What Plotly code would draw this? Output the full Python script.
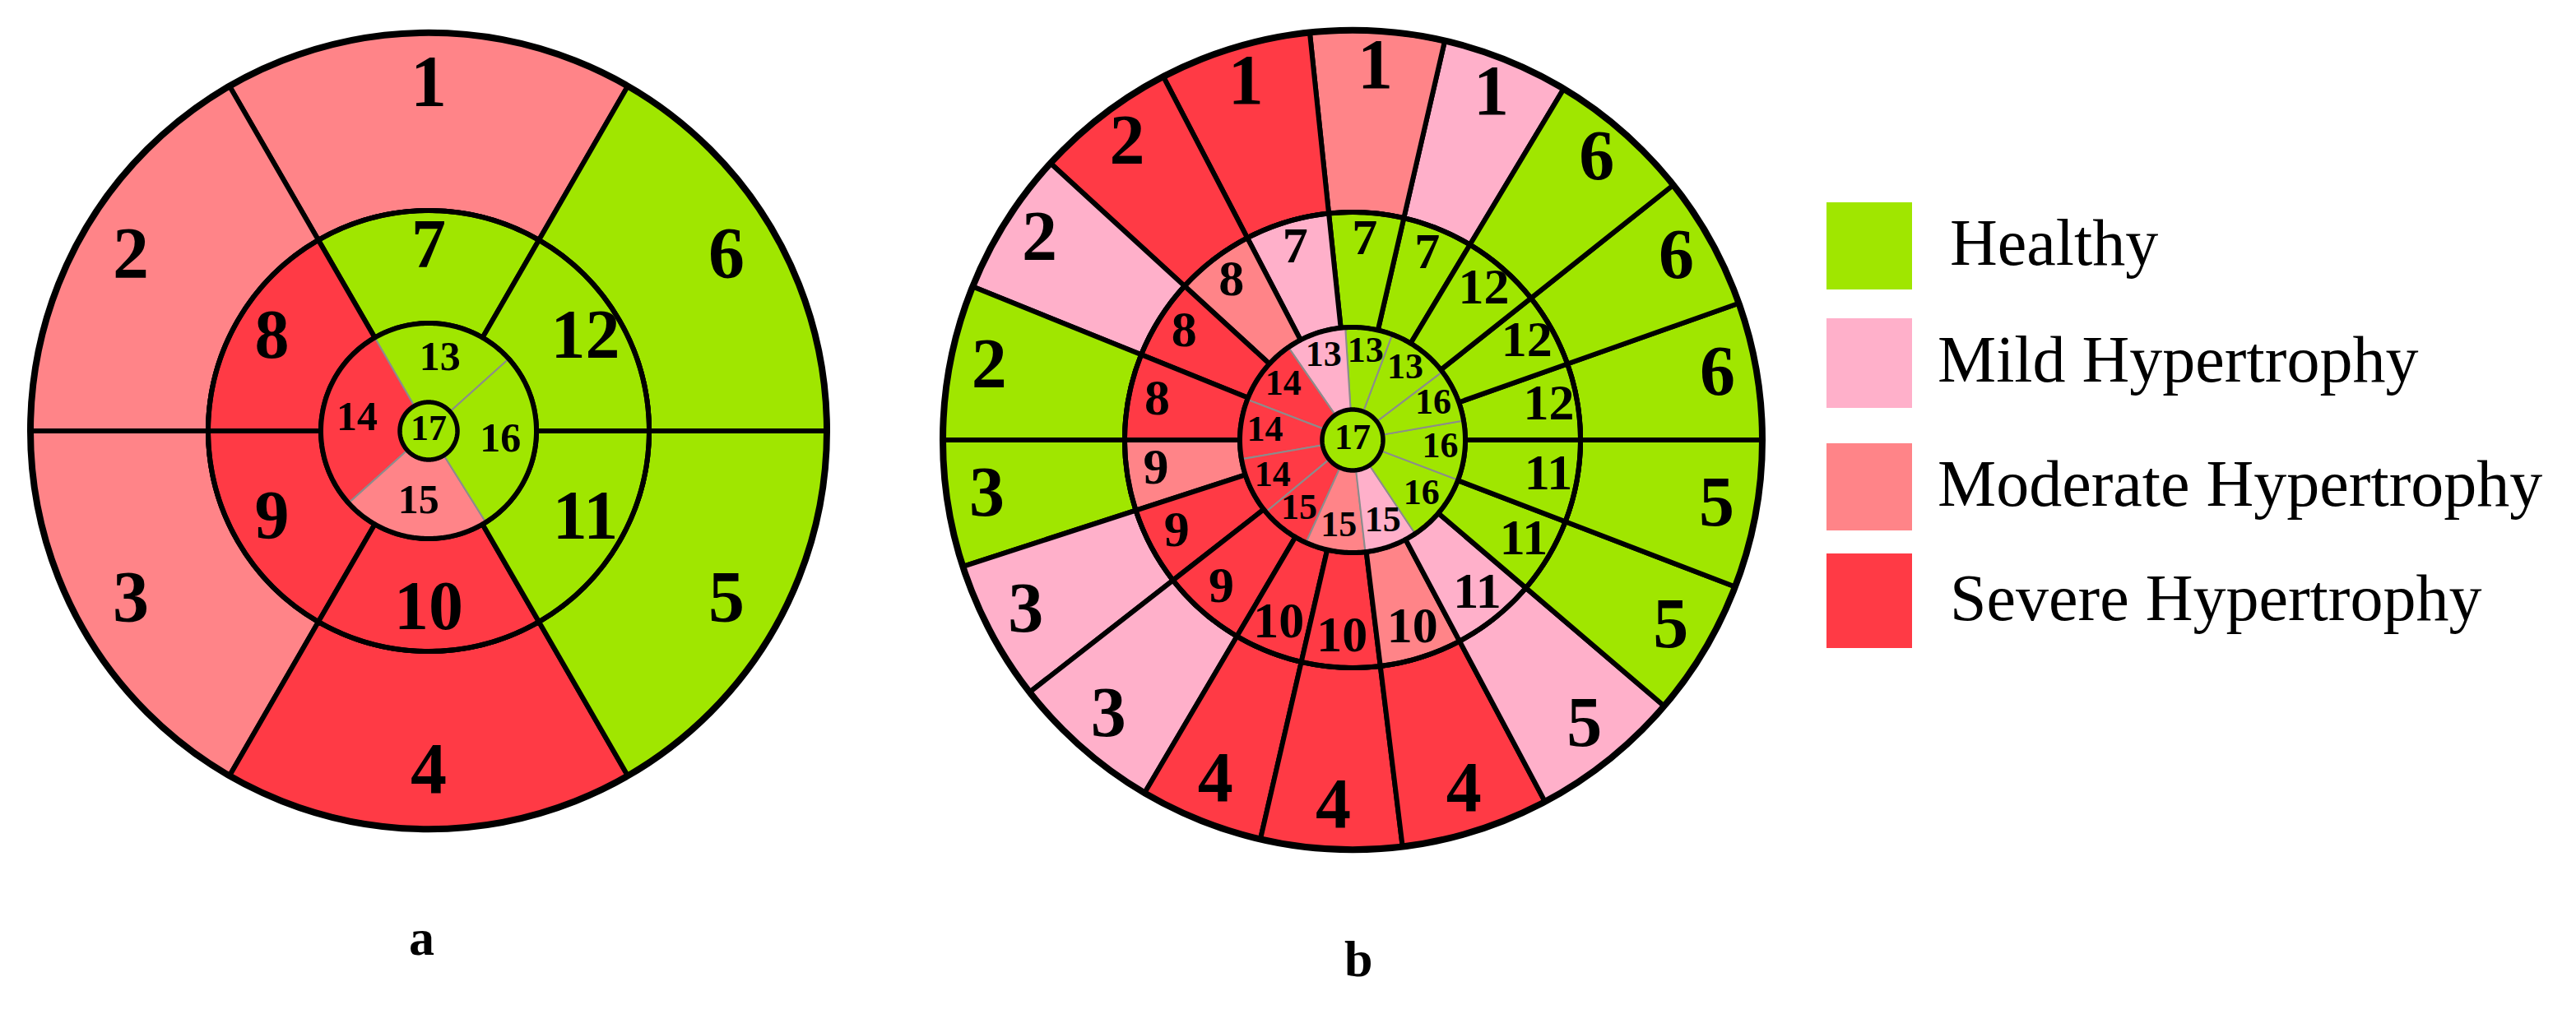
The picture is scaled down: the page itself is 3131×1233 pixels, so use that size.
import numpy as np
import plotly.graph_objects as go

W, H = 3131, 1233

# ---------------- data ----------------
categories = ["Healthy", "Mild Hypertrophy", "Moderate Hypertrophy", "Severe Hypertrophy"]
category_colors = ["#A0E600", "#FFB0CA", "#FF8488", "#FF3A45"]

# panel a : AHA 17 segment model (state = index into categories)
a_basal_labels = ["1", "2", "3", "4", "5", "6"]
a_basal_state = [2, 2, 2, 3, 0, 0]
a_mid_labels = ["7", "8", "9", "10", "11", "12"]
a_mid_state = [0, 3, 3, 3, 0, 0]
a_ring_edges = [60, 120, 180, 240, 300, 360, 420]
a_apical_labels = ["13", "14", "15", "16"]
a_apical_state = [0, 3, 2, 0]
a_apical_edges = [42, 120, 222, 302, 402]
a_apex_label = "17"
a_apex_state = 0

# panel b : each segment split in three
b_basal_labels = ["1", "1", "1", "2", "2", "2", "3", "3", "3",
                  "4", "4", "4", "5", "5", "5", "6", "6", "6"]
b_basal_state = [1, 2, 3, 3, 1, 0, 0, 1, 1, 3, 3, 3, 1, 0, 0, 0, 0, 0]
b_mid_labels = ["7", "7", "7", "8", "8", "8", "9", "9", "9",
                "10", "10", "10", "11", "11", "11", "12", "12", "12"]
b_mid_state = [0, 0, 1, 2, 3, 3, 2, 3, 3, 3, 3, 2, 1, 0, 0, 0, 0, 0]
b_ring_edges = [59, 77, 96, 117.5, 137.5, 158, 180, 198, 218, 239.5,
                257, 277, 298, 319.5, 339, 360, 379.5, 398.5, 419]
b_apical_labels = ["13", "13", "13", "14", "14", "14", "15", "15", "15", "16", "16", "16"]
b_apical_state = [0, 0, 1, 3, 3, 3, 3, 2, 1, 0, 0, 0]
b_apical_edges = [37.2, 69.4, 93.7, 124.7, 159, 189.8, 219.7, 245.6,
                  276.5, 303.7, 339.2, 369.9, 397.2]
b_apex_label = "17"
b_apex_state = 0

panel_labels = ["a", "b"]

# ---------------- helpers ----------------
SERIF = "Liberation Serif"
fig = go.Figure()


def ring(edges, states, labels, r_in, r_out, r_text, size, lc, lw, sub):
    edges = np.asarray(edges, dtype=float)
    centers = (edges[:-1] + edges[1:]) / 2
    widths = edges[1:] - edges[:-1]
    fig.add_trace(go.Barpolar(
        theta=centers, width=widths, base=[r_in] * len(centers),
        r=[r_out - r_in] * len(centers),
        marker=dict(color=[category_colors[s] for s in states],
                    line=dict(color=lc, width=lw)),
        hoverinfo="skip", showlegend=False, subplot=sub))
    return centers, r_text, labels, size


def texts(items, sub):
    for centers, r_text, labels, size in items:
        fig.add_trace(go.Scatterpolar(
            theta=centers, r=[r_text] * len(centers), mode="text",
            text=["<b>%s</b>" % t for t in labels],
            textfont=dict(family=SERIF, size=size, color="black"),
            textposition="middle center", hoverinfo="skip",
            showlegend=False, subplot=sub, cliponaxis=False))


def circle(r, sub, width=6):
    th = np.linspace(0, 360, 361)
    fig.add_trace(go.Scatterpolar(
        theta=th, r=np.full_like(th, r), mode="lines",
        line=dict(color="black", width=width), hoverinfo="skip",
        showlegend=False, subplot=sub))


def panel(sub, R, r_mid, r_ap, r_17, basal, mid, apical, apex_state, apex_label,
          rt, sizes):
    items = []
    items.append(ring(basal[0], basal[1], basal[2], r_mid, R, rt[0], sizes[0],
                      "black", 6, sub))
    items.append(ring(mid[0], mid[1], mid[2], r_ap, r_mid, rt[1], sizes[1],
                      "black", 6, sub))
    items.append(ring(apical[0], apical[1], apical[2], r_17, r_ap, rt[2], sizes[2],
                      "#8c8c8c", 2, sub))
    fig.add_trace(go.Barpolar(
        theta=[0], width=[360], base=[0], r=[r_17],
        marker=dict(color=category_colors[apex_state], line=dict(width=0)),
        hoverinfo="skip", showlegend=False, subplot=sub))
    circle(r_mid, sub, 6)
    circle(r_ap, sub, 6)
    circle(r_17, sub, 5.5)
    items.append(([0], 0, [apex_label], sizes[3]))
    texts(items, sub)


panel("polar", 484, 268, 131, 35,
      (a_ring_edges, a_basal_state, a_basal_labels),
      (a_ring_edges, a_mid_state, a_mid_labels),
      (a_apical_edges, a_apical_state, a_apical_labels),
      a_apex_state, a_apex_label,
      rt=(418, 220, 88), sizes=(88, 84, 50, 44))

panel("polar2", 498, 277, 137, 37,
      (b_ring_edges, b_basal_state, b_basal_labels),
      (b_ring_edges, b_mid_state, b_mid_labels),
      (b_apical_edges, b_apical_state, b_apical_labels),
      b_apex_state, b_apex_label,
      rt=(450, 242, 107), sizes=(86, 62, 44, 44))


def px_x(x):
    return x / W


def px_y(y):
    return 1 - y / H


def polar_layout(cx, cy, R):
    return dict(
        domain=dict(x=[px_x(cx - R), px_x(cx + R)], y=[px_y(cy + R), px_y(cy - R)]),
        bgcolor="white", barmode="overlay",
        radialaxis=dict(visible=False, range=[0, R], showgrid=False),
        angularaxis=dict(rotation=0, direction="counterclockwise", showgrid=False,
                         showticklabels=False, ticks="", showline=True,
                         linecolor="black", linewidth=8),
    )


# legend (drawn as shapes + text)
legend_boxes = [(238, 344), (379, 488), (531, 637), (665, 780)]
legend_text_x = [2360, 2345, 2345, 2360]
shapes = []
annotations = []
for i, (y0, y1) in enumerate(legend_boxes):
    shapes.append(dict(type="rect", xref="paper", yref="paper",
                       x0=px_x(2212), x1=px_x(2316), y0=px_y(y1), y1=px_y(y0),
                       fillcolor=category_colors[i], line=dict(width=0)))
    annotations.append(dict(xref="paper", yref="paper", x=px_x(legend_text_x[i]),
                            y=px_y((y0 + y1) / 2 - 4), text=categories[i],
                            showarrow=False, xanchor="left", yanchor="middle",
                            font=dict(family=SERIF, size=80, color="black")))

for lab, (x, y) in zip(panel_labels, [(504, 1132), (1643, 1158)]):
    annotations.append(dict(xref="paper", yref="paper", x=px_x(x), y=px_y(y),
                            text="<b>%s</b>" % lab, showarrow=False,
                            xanchor="center", yanchor="middle",
                            font=dict(family=SERIF, size=62, color="black")))

fig.update_layout(
    width=W, height=H, autosize=False,
    margin=dict(l=0, r=0, t=0, b=0),
    paper_bgcolor="white", plot_bgcolor="white",
    polar=polar_layout(513, 516, 484),
    polar2=polar_layout(1636, 527, 498),
    shapes=shapes, annotations=annotations, showlegend=False,
)

fig.write_html("out.html")
